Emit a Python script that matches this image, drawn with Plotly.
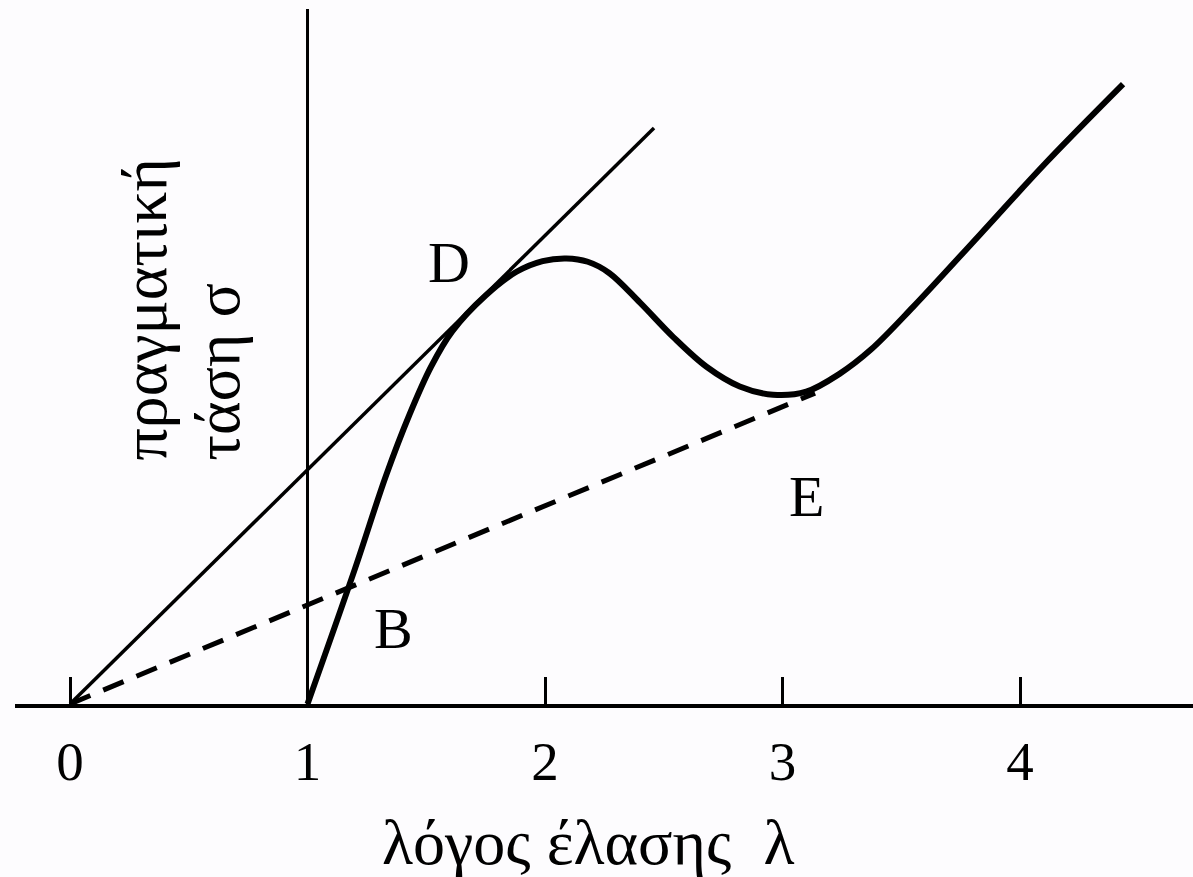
import plotly.graph_objects as go

# Considère construction: true stress σ against draw ratio λ
lam_curve = [1.0, 1.20, 1.33, 1.43, 1.52, 1.61, 1.75, 1.88, 1.99, 2.09,
             2.18, 2.27, 2.40, 2.54, 2.68, 2.82, 2.96, 3.10, 3.24, 3.37,
             3.55, 3.83, 4.11, 4.434]
sigma_curve = [0.0, 0.57, 0.96, 1.22, 1.42, 1.57, 1.72, 1.82, 1.865, 1.876,
               1.862, 1.815, 1.69, 1.545, 1.42, 1.337, 1.302, 1.315, 1.39, 1.49,
               1.672, 1.975, 2.28, 2.61]

# tangent from the origin touching the curve at the maximum-load point D
tangent_lam = [0.0, 2.459]
tangent_sigma = [0.0, 2.425]

# second tangent (dashed) from the origin to the stable-neck point E
dashed_lam = [0.0, 3.137]
dashed_sigma = [0.0, 1.309]

# vertical reference line at λ = 1
ref_lam = [1.0, 1.0]
ref_sigma = [0.0, 2.926]

tick_vals = [0, 1, 2, 3, 4]
tick_text = ["0", "1", "2", "3", "4"]

point_labels = ["D", "B", "E"]
point_lam = [1.596, 1.360, 3.099]
point_sigma = [1.857, 0.320, 0.872]

x_title = "λόγος έλασης\u00a0\u00a0λ"
y_title_lines = ["πραγματική", "τάση\u00a0σ"]
y_title_pos = [0.312, 0.622]

SERIF = "Liberation Serif, Times New Roman, serif"

fig = go.Figure()

fig.add_trace(go.Scatter(x=ref_lam, y=ref_sigma, mode="lines",
                         line=dict(color="black", width=3), hoverinfo="skip"))
fig.add_trace(go.Scatter(x=tangent_lam, y=tangent_sigma, mode="lines",
                         line=dict(color="black", width=3.5), hoverinfo="skip"))
fig.add_trace(go.Scatter(x=dashed_lam, y=dashed_sigma, mode="lines",
                         line=dict(color="black", width=5, dash="22px,14px"),
                         hoverinfo="skip"))
fig.add_trace(go.Scatter(x=lam_curve, y=sigma_curve, mode="lines",
                         line=dict(color="black", width=6, shape="spline",
                                   smoothing=1.0),
                         hoverinfo="skip"))

for txt, lx, ly in zip(point_labels, point_lam, point_sigma):
    fig.add_annotation(x=lx, y=ly, xref="x", yref="y", text=txt, showarrow=False,
                       font=dict(family=SERIF, size=58, color="black"),
                       xanchor="center", yanchor="middle")

# axis titles
fig.add_annotation(x=(588 - 15) / 1178, y=-0.1974, xref="paper", yref="paper",
                   text=x_title, showarrow=False,
                   font=dict(family=SERIF, size=64, color="black"),
                   xanchor="center", yanchor="middle")

for line_txt, lx in zip(y_title_lines, y_title_pos):
    fig.add_annotation(x=lx, y=1.015, xref="x", yref="y", text=line_txt,
                       showarrow=False, textangle=-90,
                       font=dict(family=SERIF, size=64, color="black"),
                       xanchor="center", yanchor="bottom")

fig.update_xaxes(range=[-0.2316, 4.7284], tickvals=tick_vals, ticktext=tick_text,
                 showline=True, linewidth=4, linecolor="black",
                 ticks="inside", ticklen=27, tickwidth=3, tickcolor="black",
                 ticklabelstandoff=6,
                 tickfont=dict(family=SERIF, size=55, color="black"),
                 showgrid=False, zeroline=False, fixedrange=True)
fig.update_yaxes(range=[0, 2.9642], showticklabels=False, ticks="",
                 showline=False, showgrid=False, zeroline=False, fixedrange=True)

fig.update_layout(width=1193, height=877,
                  margin=dict(l=15, r=0, t=0, b=173),
                  paper_bgcolor="#fdfcfe", plot_bgcolor="#fdfcfe",
                  showlegend=False)

fig.write_html("out.html")
